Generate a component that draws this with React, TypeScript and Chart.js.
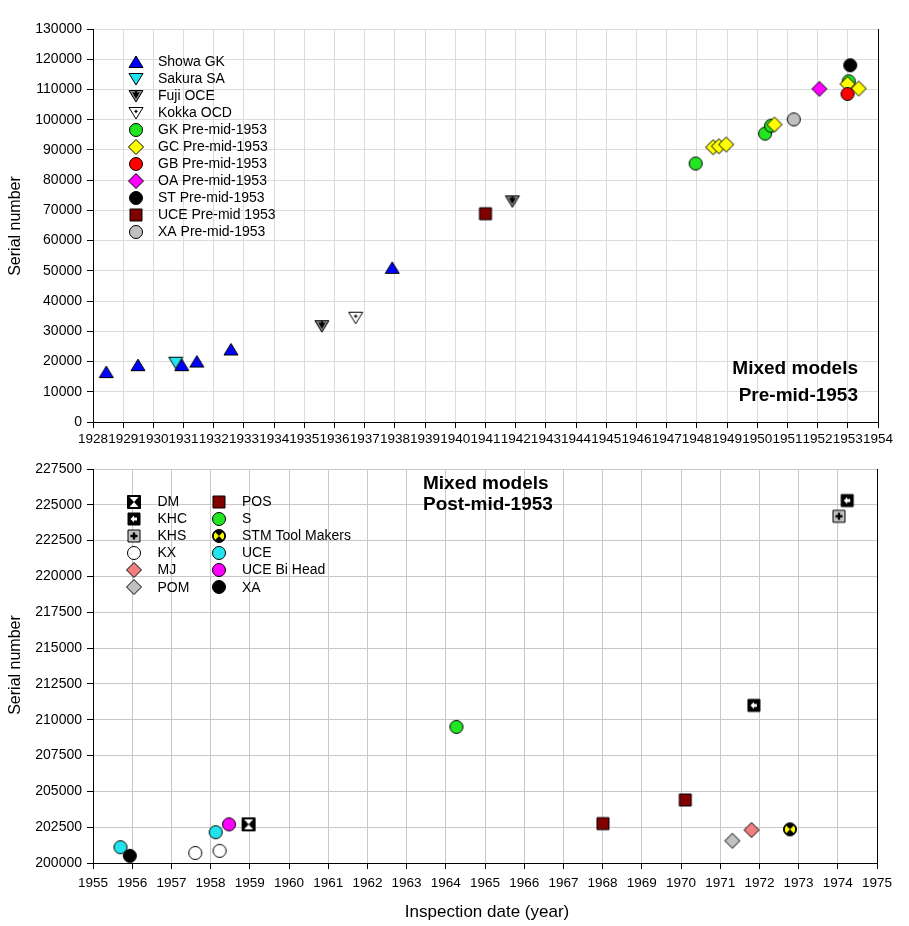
import React, { useEffect, useRef } from 'react';
import { Chart, registerables } from 'chart.js';

Chart.register(...registerables);

// ---------- Top chart data (pre-mid-1953) ----------
const showaGkX = [1928.44, 1929.49, 1930.94, 1931.44, 1932.57, 1937.91];
const showaGkY = [16500, 18800, 18800, 20000, 24000, 51000];
const sakuraSaX = [1930.74];
const sakuraSaY = [19600];
const fujiOceX = [1935.58, 1941.89];
const fujiOceY = [31700, 73000];
const kokkaOcdX = [1936.7];
const kokkaOcdY = [34500];
const gkPreX = [1947.96, 1950.26, 1950.46, 1953.03];
const gkPreY = [85500, 95400, 98000, 112700];
const gcPreX = [1948.54, 1948.73, 1948.97, 1950.57, 1952.99, 1953.36];
const gcPreY = [90900, 91200, 91800, 98400, 111800, 110300];
const gbPreX = [1952.99];
const gbPreY = [108500];
const oaPreX = [1952.06];
const oaPreY = [110200];
const stPreX = [1953.08];
const stPreY = [118000];
const ucePreX = [1941.0];
const ucePreY = [68900];
const xaPreX = [1951.21];
const xaPreY = [100100];

// ---------- Bottom chart data (post-mid-1953) ----------
const dmX = [1958.97];
const dmY = [202700];
const khcX = [1971.86, 1974.24];
const khcY = [211000, 225300];
const khsX = [1974.03];
const khsY = [224200];
const kxX = [1957.61, 1958.23];
const kxY = [200700, 200850];
const mjX = [1971.8];
const mjY = [202300];
const pomX = [1971.31];
const pomY = [201550];
const posX = [1968.01, 1970.11];
const posY = [202750, 204400];
const sX = [1964.27];
const sY = [209500];
const stmX = [1972.78];
const stmY = [202350];
const uceX = [1955.7, 1958.13];
const uceY = [201100, 202150];
const uceBiX = [1958.47];
const uceBiY = [202700];
const xaX = [1955.94];
const xaY = [200500];

// axis ranges / ticks
const topXRange = [1928, 1954];
const topYRange = [0, 130000];
const topYStep = 10000;
const botXRange = [1955, 1975];
const botYRange = [200000, 227500];
const botYStep = 2500;

const FONT = "'Liberation Sans', Arial, sans-serif";

type Kind =
  | 'triUp' | 'triDown' | 'circle' | 'diamond' | 'square'
  | 'fuji' | 'kokka' | 'dm' | 'khc' | 'khs' | 'stm';

function makeMarker(kind: Kind, fill: string): HTMLCanvasElement {
  const S = 20;
  const c = document.createElement('canvas');
  c.width = S;
  c.height = S;
  const ctx = c.getContext('2d') as CanvasRenderingContext2D;
  const cx = S / 2;
  const cy = S / 2;
  ctx.lineWidth = 1;
  ctx.strokeStyle = '#000';
  ctx.fillStyle = fill;
  const poly = (pts: number[][]) => {
    ctx.beginPath();
    pts.forEach((p, i) => (i ? ctx.lineTo(p[0], p[1]) : ctx.moveTo(p[0], p[1])));
    ctx.closePath();
  };
  const circ = (r: number) => {
    ctx.beginPath();
    ctx.arc(cx, cy, r, 0, Math.PI * 2);
  };
  const sq = (h: number) => {
    ctx.beginPath();
    ctx.rect(cx - h, cy - h, 2 * h, 2 * h);
  };
  switch (kind) {
    case 'triUp':
      poly([[cx, cy - 6], [cx + 7, cy + 5.5], [cx - 7, cy + 5.5]]);
      ctx.fill();
      ctx.stroke();
      break;
    case 'triDown':
    case 'fuji':
    case 'kokka':
      poly([[cx - 7, cy - 5.5], [cx + 7, cy - 5.5], [cx, cy + 6]]);
      ctx.fill();
      ctx.stroke();
      if (kind === 'fuji') {
        ctx.fillStyle = '#000';
        poly([[cx - 3.5, cy - 3.5], [cx + 3.5, cy - 3.5], [cx, cy + 2.5]]);
        ctx.fill();
        ctx.fillRect(cx - 0.8, cy - 5, 1.6, 5);
      }
      if (kind === 'kokka') {
        ctx.fillStyle = '#000';
        ctx.fillRect(cx - 0.6, cy - 3.2, 1.2, 3.4);
        ctx.fillRect(cx - 1.6, cy - 2.2, 3.2, 1.2);
      }
      break;
    case 'circle':
      circ(6.5);
      ctx.fill();
      ctx.stroke();
      break;
    case 'diamond':
      poly([[cx, cy - 7.5], [cx + 7.5, cy], [cx, cy + 7.5], [cx - 7.5, cy]]);
      ctx.fill();
      ctx.stroke();
      break;
    case 'square':
      sq(6);
      ctx.fill();
      ctx.stroke();
      break;
    case 'dm':
      ctx.fillStyle = '#000';
      sq(6.5);
      ctx.fill();
      ctx.stroke();
      ctx.fillStyle = '#fff';
      poly([[cx - 4.5, cy - 5], [cx + 4.5, cy - 5], [cx, cy]]);
      ctx.fill();
      poly([[cx - 4.5, cy + 5], [cx + 4.5, cy + 5], [cx, cy]]);
      ctx.fill();
      break;
    case 'khc':
      ctx.fillStyle = '#000';
      sq(6);
      ctx.fill();
      ctx.stroke();
      ctx.fillStyle = '#fff';
      poly([[cx - 3.5, cy], [cx, cy - 3.5], [cx, cy + 3.5]]);
      ctx.fill();
      ctx.fillRect(cx, cy - 1.5, 3, 3);
      break;
    case 'khs':
      ctx.fillStyle = fill;
      sq(6);
      ctx.fill();
      ctx.stroke();
      ctx.fillStyle = '#000';
      ctx.fillRect(cx - 3.5, cy - 1.2, 7, 2.4);
      ctx.fillRect(cx - 1.2, cy - 3.5, 2.4, 7);
      break;
    case 'stm':
      ctx.fillStyle = '#000';
      circ(6.5);
      ctx.fill();
      ctx.fillStyle = '#ffff00';
      ctx.beginPath();
      ctx.moveTo(cx, cy);
      ctx.arc(cx, cy, 5.2, -Math.PI / 4, Math.PI / 4);
      ctx.closePath();
      ctx.fill();
      ctx.beginPath();
      ctx.moveTo(cx, cy);
      ctx.arc(cx, cy, 5.2, (3 * Math.PI) / 4, (5 * Math.PI) / 4);
      ctx.closePath();
      ctx.fill();
      circ(6.5);
      ctx.stroke();
      break;
  }
  return c;
}

interface Series {
  label: string;
  xs: number[];
  ys: number[];
  kind: Kind;
  fill: string;
  onTop?: boolean;
}

const topSeries: Series[] = [
  { label: 'Showa GK', xs: showaGkX, ys: showaGkY, kind: 'triUp', fill: '#0000ff', onTop: true },
  { label: 'Sakura SA', xs: sakuraSaX, ys: sakuraSaY, kind: 'triDown', fill: '#22e4ee' },
  { label: 'Fuji OCE', xs: fujiOceX, ys: fujiOceY, kind: 'fuji', fill: '#808080' },
  { label: 'Kokka OCD', xs: kokkaOcdX, ys: kokkaOcdY, kind: 'kokka', fill: '#ffffff' },
  { label: 'GK Pre-mid-1953', xs: gkPreX, ys: gkPreY, kind: 'circle', fill: '#22e622' },
  { label: 'GC Pre-mid-1953', xs: gcPreX, ys: gcPreY, kind: 'diamond', fill: '#ffff00' },
  { label: 'GB Pre-mid-1953', xs: gbPreX, ys: gbPreY, kind: 'circle', fill: '#ff0000' },
  { label: 'OA Pre-mid-1953', xs: oaPreX, ys: oaPreY, kind: 'diamond', fill: '#ff00ff' },
  { label: 'ST Pre-mid-1953', xs: stPreX, ys: stPreY, kind: 'circle', fill: '#000000' },
  { label: 'UCE Pre-mid 1953', xs: ucePreX, ys: ucePreY, kind: 'square', fill: '#800000' },
  { label: 'XA Pre-mid-1953', xs: xaPreX, ys: xaPreY, kind: 'circle', fill: '#c0c0c0' },
];

const botSeries: Series[] = [
  { label: 'DM', xs: dmX, ys: dmY, kind: 'dm', fill: '#000000' },
  { label: 'KHC', xs: khcX, ys: khcY, kind: 'khc', fill: '#000000' },
  { label: 'KHS', xs: khsX, ys: khsY, kind: 'khs', fill: '#c0c0c0' },
  { label: 'KX', xs: kxX, ys: kxY, kind: 'circle', fill: '#ffffff' },
  { label: 'MJ', xs: mjX, ys: mjY, kind: 'diamond', fill: '#f08080' },
  { label: 'POM', xs: pomX, ys: pomY, kind: 'diamond', fill: '#c0c0c0' },
  { label: 'POS', xs: posX, ys: posY, kind: 'square', fill: '#800000' },
  { label: 'S', xs: sX, ys: sY, kind: 'circle', fill: '#22e622' },
  { label: 'STM Tool Makers', xs: stmX, ys: stmY, kind: 'stm', fill: '#ffff00' },
  { label: 'UCE', xs: uceX, ys: uceY, kind: 'circle', fill: '#22e4ee' },
  { label: 'UCE Bi Head', xs: uceBiX, ys: uceBiY, kind: 'circle', fill: '#ff00ff' },
  { label: 'XA', xs: xaX, ys: xaY, kind: 'circle', fill: '#000000' },
];

interface TextItem {
  text: string;
  x: number;
  y: number;
  font: string;
  align: CanvasTextAlign;
  rotate?: boolean;
}

interface Extra {
  legend: { x: number; y: number; textX: number }[];
  texts: TextItem[];
}

function overlayPlugin(series: Series[], markers: HTMLCanvasElement[], extra: Extra) {
  return {
    id: 'overlay',
    afterDraw(chart: any) {
      const ctx: CanvasRenderingContext2D = chart.ctx;
      const a = chart.chartArea;
      ctx.save();
      // right frame line
      ctx.strokeStyle = '#000';
      ctx.lineWidth = 1;
      ctx.beginPath();
      ctx.moveTo(Math.round(a.right) + 0.5, a.top);
      ctx.lineTo(Math.round(a.right) + 0.5, a.bottom);
      ctx.stroke();
      // legend
      ctx.fillStyle = '#000';
      ctx.textBaseline = 'middle';
      ctx.textAlign = 'left';
      ctx.font = `14px ${FONT}`;
      series.forEach((s, i) => {
        const p = extra.legend[i];
        const m = markers[i];
        ctx.drawImage(m, Math.round(p.x - m.width / 2), Math.round(p.y - m.height / 2));
        ctx.fillText(s.label, p.textX, p.y + 0.5);
      });
      // texts
      extra.texts.forEach((t) => {
        ctx.save();
        ctx.font = t.font;
        ctx.textAlign = t.align;
        ctx.textBaseline = 'middle';
        ctx.translate(t.x, t.y);
        if (t.rotate) ctx.rotate(-Math.PI / 2);
        ctx.fillText(t.text, 0, 0);
        ctx.restore();
      });
      ctx.restore();
    },
  };
}

function buildConfig(
  series: Series[],
  xr: number[],
  yr: number[],
  yStep: number,
  canvasH: number,
  area: { left: number; right: number; top: number; bottom: number },
  gridColor: string,
  xPad: number,
  extra: Extra
): any {
  const markers = series.map((s) => makeMarker(s.kind, s.fill));
  const n = series.length;
  return {
    type: 'scatter',
    data: {
      datasets: series.map((s, i) => ({
        label: s.label,
        data: s.xs.map((x, j) => ({ x, y: s.ys[j] })),
        pointStyle: markers[i],
        pointRadius: 7,
        pointHoverRadius: 7,
        // lower order is drawn on top: later series drawn over earlier ones
        order: s.onTop ? -1 : n - i,
      })),
    },
    options: {
      animation: false,
      responsive: false,
      events: [],
      layout: { padding: { left: 0, right: 909 - area.right, top: area.top, bottom: 0 } },
      plugins: { legend: { display: false }, tooltip: { enabled: false }, title: { display: false } },
      scales: {
        x: {
          type: 'linear',
          min: xr[0],
          max: xr[1],
          afterFit: (s: any) => {
            s.height = canvasH - area.bottom;
          },
          ticks: {
            stepSize: 1,
            autoSkip: false,
            maxRotation: 0,
            minRotation: 0,
            includeBounds: true,
            callback: (v: any) => String(v),
            font: { family: FONT, size: 13.5 },
            color: '#000',
            padding: xPad,
          },
          grid: { color: gridColor, tickColor: '#000', tickLength: 6, lineWidth: 1 },
          border: { display: true, color: '#000', width: 1 },
        },
        y: {
          type: 'linear',
          min: yr[0],
          max: yr[1],
          afterFit: (s: any) => {
            s.width = area.left;
          },
          ticks: {
            stepSize: yStep,
            autoSkip: false,
            callback: (v: any) => String(v),
            font: { family: FONT, size: 14 },
            color: '#000',
            padding: 5,
          },
          grid: { color: gridColor, tickColor: '#000', tickLength: 6, lineWidth: 1 },
          border: { display: true, color: '#000', width: 1 },
        },
      },
    },
    plugins: [overlayPlugin(series, markers, extra)],
  };
}

const topLegend = topSeries.map((_, i) => ({ x: 136, y: 61.7 + 17 * i, textX: 158 }));
const botLegend = botSeries.map((_, i) => {
  const col = i < 6 ? 0 : 1;
  const row = i % 6;
  return {
    x: col === 0 ? 133.5 : 218.5,
    y: 51.7 + 17.1 * row,
    textX: col === 0 ? 157.5 : 242,
  };
});

export default function App() {
  const topRef = useRef<HTMLCanvasElement>(null);
  const botRef = useRef<HTMLCanvasElement>(null);

  useEffect(() => {
    document.body.style.margin = '0';
    const topCfg = buildConfig(
      topSeries,
      topXRange,
      topYRange,
      topYStep,
      450,
      { left: 93, right: 878, top: 29, bottom: 422 },
      '#dcdcdc',
      3,
      {
        legend: topLegend,
        texts: [
          { text: 'Serial number', x: 16, y: 226, font: `16px ${FONT}`, align: 'center', rotate: true },
          { text: 'Mixed models', x: 858, y: 369, font: `bold 19px ${FONT}`, align: 'right' },
          { text: 'Pre-mid-1953', x: 858, y: 396, font: `bold 19px ${FONT}`, align: 'right' },
        ],
      }
    );
    const botCfg = buildConfig(
      botSeries,
      botXRange,
      botYRange,
      botYStep,
      476,
      { left: 93, right: 877, top: 19, bottom: 413 },
      '#c8c8c8',
      6,
      {
        legend: botLegend,
        texts: [
          { text: 'Serial number', x: 16, y: 215, font: `16px ${FONT}`, align: 'center', rotate: true },
          { text: 'Mixed models', x: 423, y: 34, font: `bold 19px ${FONT}`, align: 'left' },
          { text: 'Post-mid-1953', x: 423, y: 55, font: `bold 19px ${FONT}`, align: 'left' },
          { text: 'Inspection date (year)', x: 487, y: 462, font: `17px ${FONT}`, align: 'center' },
        ],
      }
    );
    const c1 = new Chart(topRef.current as HTMLCanvasElement, topCfg);
    const c2 = new Chart(botRef.current as HTMLCanvasElement, botCfg);
    return () => {
      c1.destroy();
      c2.destroy();
    };
  }, []);

  return (
    <div style={{ position: 'absolute', left: 0, top: 0, width: 909, height: 926, background: '#fff' }}>
      <canvas ref={topRef} width={909} height={450} style={{ position: 'absolute', left: 0, top: 0 }} />
      <canvas ref={botRef} width={909} height={476} style={{ position: 'absolute', left: 0, top: 450 }} />
    </div>
  );
}
